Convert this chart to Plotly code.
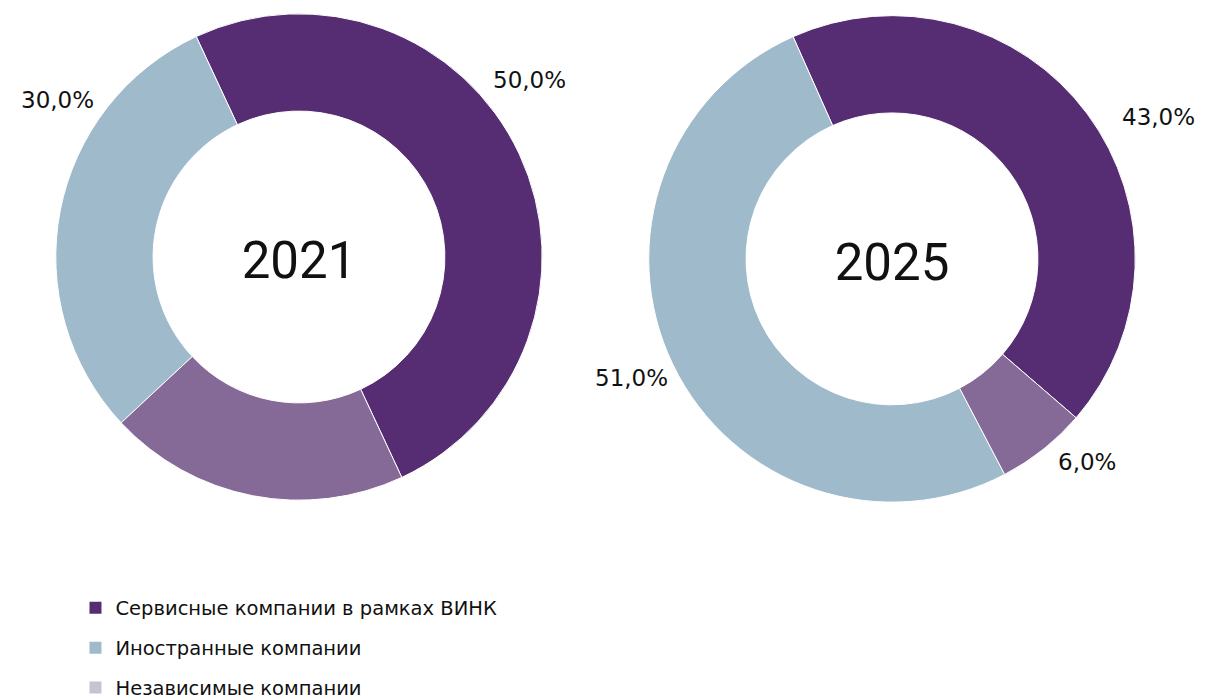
import plotly.graph_objects as go

# ---- data ----
categories = ["Сервисные компании в рамках ВИНК", "Иностранные компании", "Независимые компании"]
years = ["2021", "2025"]
values_2021 = [50.0, 30.0, 20.0]
values_2025 = [43.0, 51.0, 6.0]
shown_2021 = [True, True, False]
shown_2025 = [True, True, True]

# ---- styles ----
slice_colors = ["#562d72", "#9ebacb", "#856a98"]
legend_colors = ["#562d72", "#9ebacb", "#c3c6d0"]
FONT = "DejaVu Sans"
TXT = "#111111"

def fmt(v):
    return f"{v:.1f}".replace(".", ",") + "%"

fig = go.Figure()

pies = [
    (values_2021, shown_2021, years[0], [0.0303, 0.4527], [0.2643, 0.9914], -25),
    (values_2025, shown_2025, years[1], [0.5224, 0.9448], [0.2614, 0.9886], -24),
]
# label anchor positions (paper coords) for each pie, per category
label_pos = [
    [(0.4324, 0.8929), (0.0407, 0.8629), None],
    [(0.9544, 0.8371), (0.5178, 0.4471), (0.8954, 0.3214)],
]

for (vals, shown, yr, dx, dy, rot), lp in zip(pies, label_pos):
    fig.add_trace(go.Pie(
        labels=categories, values=vals, sort=False, direction="counterclockwise",
        rotation=rot, hole=0.6, domain=dict(x=dx, y=dy),
        marker=dict(colors=slice_colors, line=dict(color="white", width=1)),
        textinfo="none", showlegend=False,
        title=dict(text=yr, position="middle center", font=dict(family="Roboto", size=51, color=TXT)),
    ))
    for v, s, p in zip(vals, shown, lp):
        if s and p is not None:
            fig.add_annotation(x=p[0], y=p[1], xref="paper", yref="paper", text=fmt(v),
                               xanchor="center", yanchor="middle", showarrow=False,
                               font=dict(family=FONT, size=23, color=TXT))

# legend entries
for i, (c, col) in enumerate(zip(categories, legend_colors)):
    fig.add_trace(go.Scatter(x=[None], y=[None], mode="markers", name=c, legendgroup=f"g{i}",
                             marker=dict(symbol="square", size=15, color=col)))

fig.update_layout(
    width=1205, height=700, margin=dict(l=0, r=0, t=0, b=0),
    paper_bgcolor="white", plot_bgcolor="white",
    xaxis=dict(visible=False, domain=[0, 0.01]), yaxis=dict(visible=False, domain=[0, 0.01]),
    legend=dict(x=0.056, y=0.132, xanchor="left", yanchor="top", font=dict(family=FONT, size=19.5, color=TXT),
                tracegroupgap=11.5, itemsizing="constant", bgcolor="rgba(0,0,0,0)"),
    font=dict(family=FONT),
)
fig.write_html("out.html")
